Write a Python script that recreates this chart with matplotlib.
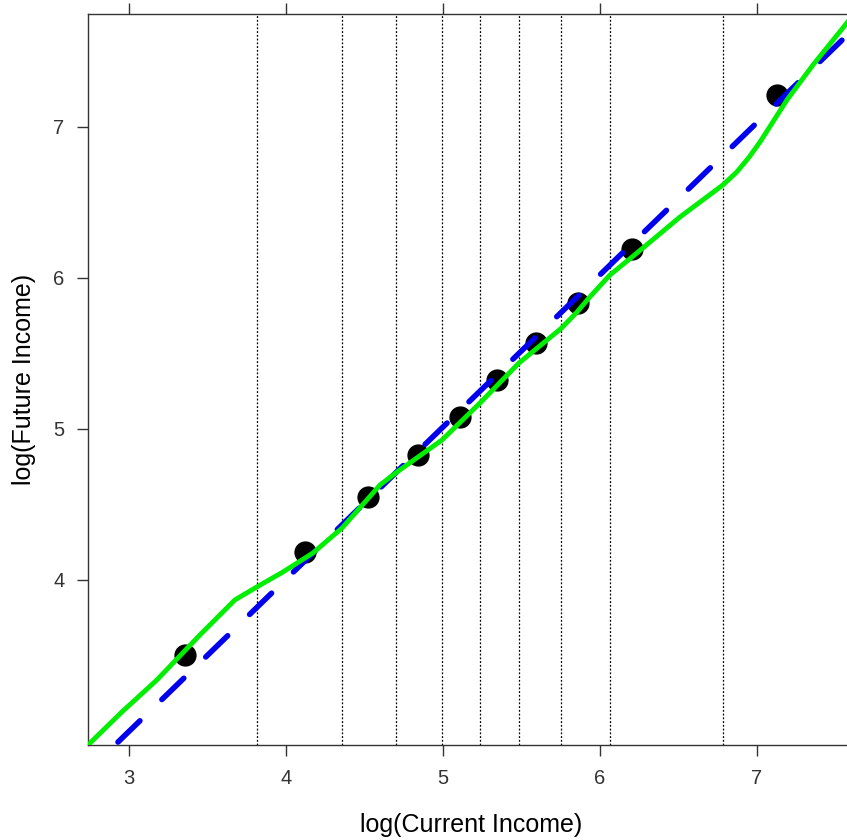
import matplotlib
matplotlib.use("Agg")
import matplotlib.pyplot as plt
import numpy as np

plt.rcParams["font.family"] = ["Liberation Sans", "DejaVu Sans"]

# vertical reference lines (quantile cut points)
cut_x = [3.815, 4.357, 4.701, 4.994, 5.236, 5.484, 5.752, 6.064, 6.783]

# group means
pts_x = [3.357, 4.121, 4.522, 4.841, 5.108, 5.344, 5.592, 5.860, 6.204, 7.127]
pts_y = [3.503, 4.185, 4.55, 4.828, 5.079, 5.325, 5.570, 5.834, 6.192, 7.212]

# smooth fit (green)
smooth_x = [2.739, 2.955, 3.178, 3.452, 3.675, 3.815, 3.981, 4.172, 4.357, 4.599,
            4.707, 4.994, 5.236, 5.484, 5.752, 5.850, 5.936, 6.064, 6.236, 6.510,
            6.783, 6.870, 6.950, 7.019, 7.191, 7.357, 7.573, 7.65]
smooth_y = [2.907, 3.126, 3.338, 3.636, 3.868, 3.954, 4.053, 4.179, 4.344, 4.629,
            4.715, 4.927, 5.172, 5.437, 5.665, 5.770, 5.875, 6.020, 6.166, 6.404,
            6.616, 6.700, 6.800, 6.900, 7.179, 7.411, 7.689, 7.79]

# linear fit (blue dashed)
fit_intercept = -0.027
fit_slope = 1.008

fig = plt.figure(figsize=(8.47, 8.40), dpi=100)
x0, x1 = 2.739, 7.62
ax = fig.add_axes([88 / 847, 95 / 840, (x1 - x0) * 157 / 847, 731 / 840])

for cx in cut_x:
    ax.axvline(cx, color="black", linestyle=(0, (1.5, 1.5)), linewidth=0.9, zorder=1)

ax.plot(pts_x, pts_y, "o", color="black", markersize=15, zorder=2)

lx = np.array([2.93, x1])
ax.plot(lx, fit_intercept + fit_slope * lx, color="#0000ee", linewidth=4,
        dashes=(5.5, 5.5), dash_capstyle="round", zorder=3)

ax.plot(smooth_x, smooth_y, color="#00ee00", linewidth=3.5, zorder=4)

ax.set_xlim(x0, x1)
ax.set_ylim(2.907, 7.748)
ax.set_xticks([3, 4, 5, 6, 7])
ax.set_yticks([4, 5, 6, 7])
ax.tick_params(direction="out", length=8, width=1, labelsize=14.5, pad=9,
               colors="#333333", top=True, labelcolor="#333333")
ax.spines["right"].set_visible(False)
for s in ["left", "top", "bottom"]:
    ax.spines[s].set_linewidth(1)
    ax.spines[s].set_color("#333333")

ax.set_xlabel("log(Current Income)", fontsize=18, labelpad=18)
ax.set_ylabel("log(Future Income)", fontsize=18, labelpad=12)

fig.savefig("out.png", dpi=100)
